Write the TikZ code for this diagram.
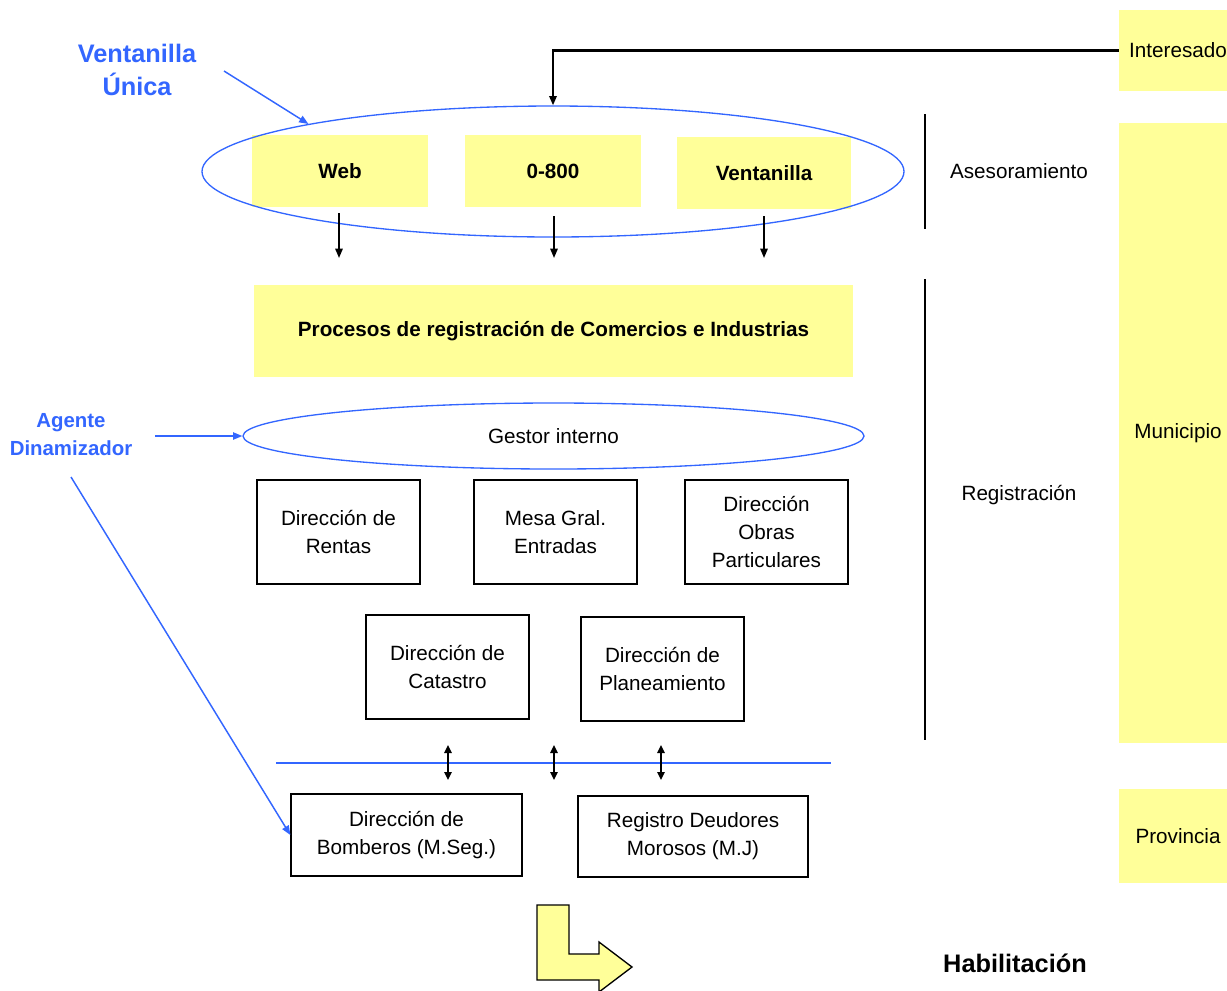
\documentclass[tikz,border=0pt]{standalone}
\usepackage{fontspec}
\setmainfont{Liberation Sans}
\usetikzlibrary{shapes.geometric,arrows.meta}
\definecolor{yel}{HTML}{FFFF99}
\definecolor{vblue}{HTML}{3366FF}
\begin{document}
\begin{tikzpicture}[x=0.75pt,y=-0.75pt,
  txt/.style={font=\fontsize{15.5}{21}\selectfont, align=center, inner sep=0pt},
  ybox/.style={fill=yel, inner sep=0pt, align=center, font=\bfseries\fontsize{15.5}{21}\selectfont},
  rbox/.style={fill=yel, inner sep=0pt, minimum width=88.5pt, align=center, font=\fontsize{15.5}{21}\selectfont},
  wbox/.style={draw, line width=1pt, minimum width=122.25pt, minimum height=78pt, align=center, inner sep=0pt, font=\fontsize{15.5}{21}\selectfont},
  dbox/.style={draw, line width=1pt, align=center, inner sep=0pt, font=\fontsize{15.5}{21}\selectfont},
  barr/.style={-{Triangle[length=7pt,width=5.5pt]}, line width=1.3pt},
  darr/.style={{Triangle[length=6pt,width=5.5pt]}-{Triangle[length=6pt,width=5.5pt]}, line width=1.3pt},
  blarr/.style={draw=vblue, line width=1.1pt, -{Triangle[length=7pt,width=5.5pt]}},
  bell/.style={ellipse, draw=vblue, line width=1pt, inner sep=0pt},
  sep/.style={line width=1.2pt}]
\clip (0,0) rectangle (1227,990);
% right column
\node[rbox, minimum height=60.75pt] (interesado) at (1178,50.5) {Interesado};
\node[rbox, minimum height=465pt] (muni) at (1178,433) {Municipio};
\node[rbox, minimum height=70.5pt] (prov) at (1178,836) {Provincia};
% top channels
\node[ybox, minimum width=132pt, minimum height=54pt] (web) at (340,171) {Web};
\node[ybox, minimum width=132pt, minimum height=54pt] (n800) at (553,171) {0-800};
\node[ybox, minimum width=130.5pt, minimum height=54pt] (vent) at (764,173) {Ventanilla};
\node[bell, minimum width=526.5pt, minimum height=98.25pt] (vuell) at (553,171.5) {};
\draw[barr, line width=1.6pt] (interesado.west) -| (vuell.north);
% labels
\node[font=\bfseries\fontsize{19}{24.75}\selectfont, text=vblue, align=center, inner sep=0pt] (vulab) at (137,70) {Ventanilla\\Única};
\coordinate (vustart) at (224,71);
\draw[blarr] (vustart) -- (vuell.169.3);
\node[txt] (aseso) at (1019,171) {Asesoramiento};
\node[txt] (regis) at (1019,495) {Registración};
\coordinate (s1a) at (925,114); \coordinate (s1b) at (925,229);
\coordinate (s2a) at (925,279); \coordinate (s2b) at (925,740);
\draw[sep] (s1a) -- (s1b);
\draw[sep] (s2a) -- (s2b);
% arrows down
\coordinate (a1) at (339,213); \coordinate (a1e) at (339,258);
\coordinate (a2) at (554,216); \coordinate (a2e) at (554,258);
\coordinate (a3) at (764,216); \coordinate (a3e) at (764,258);
\draw[barr] (a1) -- (a1e);
\draw[barr] (a2) -- (a2e);
\draw[barr] (a3) -- (a3e);
% procesos
\node[ybox, minimum width=449.25pt, minimum height=69pt] (procesos) at (553.5,331) {Procesos de registración de Comercios e Industrias};
% gestor
\node[bell, minimum width=465.75pt, minimum height=49.5pt, font=\fontsize{15.5}{21}\selectfont] (gestor) at (553.5,436) {Gestor interno};
\node[font=\bfseries\fontsize{15.3}{21}\selectfont, text=vblue, align=center, inner sep=0pt] (agente) at (71,435) {Agente\\Dinamizador};
\coordinate (agstart) at (155,436);
\draw[blarr] (agstart) -- (gestor.west);
% boxes
\node[wbox] (rentas) at (338.5,532) {Dirección de\\Rentas};
\node[wbox] (mesa) at (555.5,532) {Mesa Gral.\\Entradas};
\node[wbox] (obras) at (766.5,532) {Dirección\\Obras\\Particulares};
\node[wbox] (catastro) at (447.5,667) {Dirección de\\Catastro};
\node[wbox] (planea) at (662.5,669) {Dirección de\\Planeamiento};
% blue line
\coordinate (bl1) at (276,763); \coordinate (bl2) at (831,763);
\draw[vblue, line width=1pt] (bl1) -- (bl2);
\coordinate (d1a) at (448,745); \coordinate (d1b) at (448,780);
\coordinate (d2a) at (554,745); \coordinate (d2b) at (554,780);
\coordinate (d3a) at (661,745); \coordinate (d3b) at (661,780);
\draw[darr] (d1a) -- (d1b);
\draw[darr] (d2a) -- (d2b);
\draw[darr] (d3a) -- (d3b);
\node[dbox, minimum width=173.25pt, minimum height=61.5pt] (bomberos) at (406.5,835) {Dirección de\\Bomberos (M.Seg.)};
\node[dbox, minimum width=172.5pt, minimum height=60.75pt] (registro) at (693,836.5) {Registro Deudores\\Morosos (M.J)};
\coordinate (agstart2) at (71,477);
\draw[blarr] (agstart2) -- (bomberos.west);
% bent arrow
\draw[fill=yel, line width=1pt, line join=miter] (537,905) -- (569,905) -- (569,954) -- (599,954) -- (599,942) -- (632,967) -- (599,992) -- (599,980) -- (537,980) -- cycle;
\node[font=\bfseries\fontsize{19}{24}\selectfont, inner sep=0pt] (habil) at (1015,963) {Habilitación};
\end{tikzpicture}
\end{document}
